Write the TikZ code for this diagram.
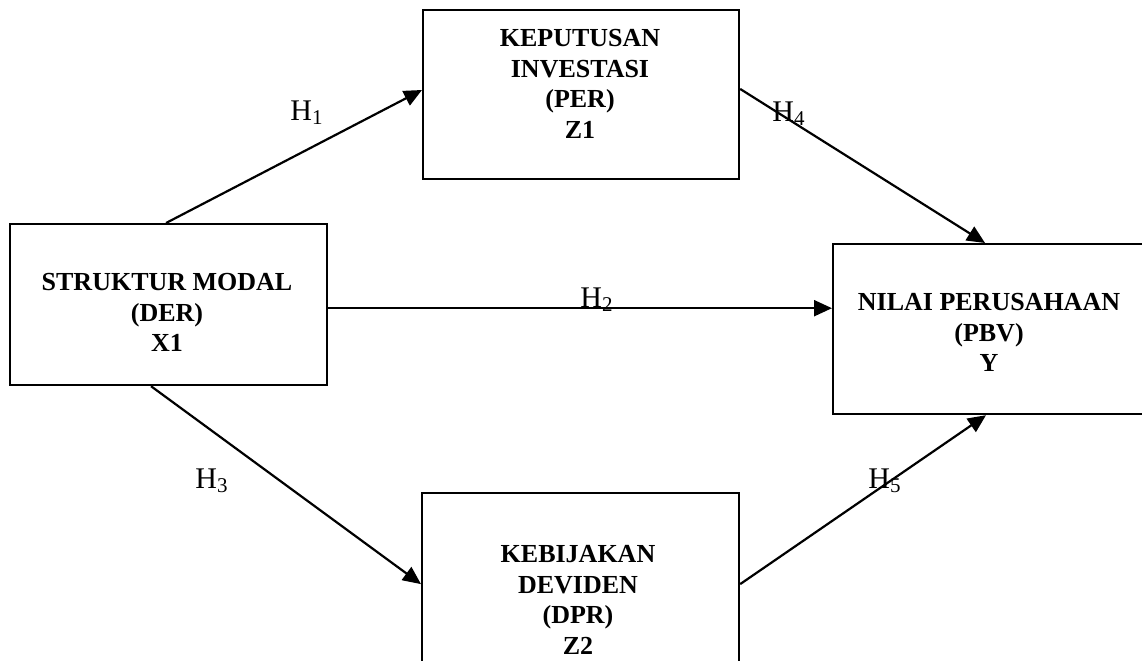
\documentclass[tikz,border=0pt]{standalone}
\usepackage{fontspec}
\setmainfont{Liberation Serif}
\usetikzlibrary{arrows.meta,calc}
\begin{document}
\begin{tikzpicture}[x=0.5pt,y=-0.5pt,
  box/.style={draw, line width=1.1pt, rectangle, inner sep=0pt, anchor=north west},
  txt/.style={font=\bfseries\fontsize{13}{15.25}\selectfont, align=center, inner sep=0pt, anchor=north},
  lab/.style={font=\fontsize{15}{18}\selectfont, inner sep=0pt, anchor=base west},
  arr/.style={line width=1.1pt, -{Triangle[length=9pt,width=8pt]}}]
\useasboundingbox[fill=white] (0,0) rectangle (1142,660);
\clip (0,0) rectangle (1142,660);
% boxes
\node[box, minimum width=158.5pt, minimum height=80.5pt] (lbox) at (9,223) {};
\node[box, minimum width=158pt, minimum height=84.5pt] (tbox) at (422,9) {};
\node[box, minimum width=158pt, minimum height=85pt] (rbox) at (832,243) {};
\node[box, minimum width=158.5pt, minimum height=91pt] (bbox) at (421,492) {};
% texts
\node[txt] (ltx) at (167,273) {STRUKTUR MODAL\\(DER)\\X1};
\node[txt] (ttx) at (580,29) {KEPUTUSAN\\INVESTASI\\(PER)\\Z1};
\node[txt] (rtx) at (989,293) {NILAI PERUSAHAAN\\(PBV)\\Y};
\node[txt] (btx) at (578,545) {KEBIJAKAN\\DEVIDEN\\(DPR)\\Z2};
% connectors
\draw[arr] ($(lbox.north west)!0.492!(lbox.north east)$) -- ($(tbox.north west)!0.473!(tbox.south west)$);
\coordinate (h2s) at ($(lbox.north east)!0.522!(lbox.south east)$);
\draw[arr] (h2s) -- (h2s -| rbox.west);
\draw[arr] ($(lbox.south west)!0.445!(lbox.south east)$) -- (bbox.west);
\draw[arr] ($(tbox.north east)!0.467!(tbox.south east)$) -- ($(rbox.north west)!0.481!(rbox.north east)$);
\draw[arr] (bbox.east) -- ($(rbox.south west)!0.484!(rbox.south east)$);
% labels
\node[lab] (h1) at (290,120) {H\textsubscript{1}};
\node[lab] (h2) at (580,307) {H\textsubscript{2}};
\node[lab] (h3) at (195,488) {H\textsubscript{3}};
\node[lab] (h4) at (772,121) {H\textsubscript{4}};
\node[lab] (h5) at (868,488) {H\textsubscript{5}};
\end{tikzpicture}
\end{document}
